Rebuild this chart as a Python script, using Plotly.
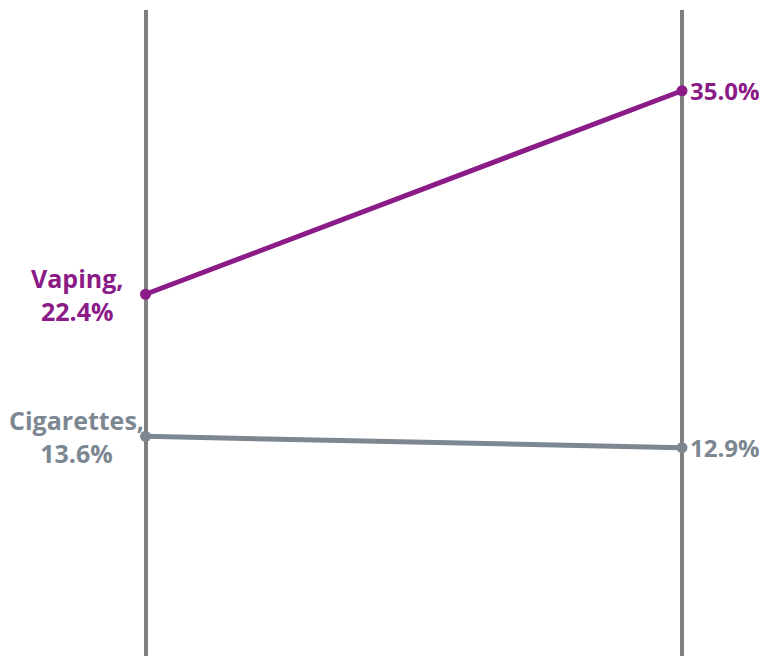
import plotly.graph_objs as go

# Datos
periods = ["Start", "End"]
series_names = ["Vaping", "Cigarettes"]
vaping = [22.4, 35.0]
cigarettes = [13.6, 12.9]

colors = {"Vaping": "#8B1C87", "Cigarettes": "#7C8791"}
values = {"Vaping": vaping, "Cigarettes": cigarettes}
font_family = "Open Sans, Liberation Sans, sans-serif"

fig = go.Figure()

for name in series_names:
    fig.add_trace(
        go.Scatter(
            x=[0, 1],
            y=values[name],
            mode="lines+markers",
            name=name,
            line=dict(color=colors[name], width=5),
            marker=dict(color=colors[name], size=11),
            showlegend=False,
        )
    )

    # Etiqueta izquierda (nombre + valor)
    fig.add_annotation(
        x=0, y=values[name][0],
        text=f"<b>{name},<br>{values[name][0]:.1f}%</b>",
        showarrow=False, xanchor="center", yanchor="middle",
        xshift=-69, align="center",
        font=dict(family=font_family, size=25, color=colors[name]),
    )
    # Etiqueta derecha (valor)
    fig.add_annotation(
        x=1, y=values[name][1],
        text=f"<b>{values[name][1]:.1f}%</b>",
        showarrow=False, xanchor="left", yanchor="middle",
        xshift=6,
        font=dict(family=font_family, size=24, color=colors[name]),
    )

# la página añade 8px de margen al body -> figura de 759x648
fig.update_xaxes(
    range=[-137.5 / 536.5, 1 + 85 / 536.5],
    tickvals=[0, 1],
    ticktext=periods,
    showticklabels=False,
    showgrid=True, gridcolor="#808080", gridwidth=4,
    zeroline=False, showline=False,
)
fig.update_yaxes(range=[0, 40], showgrid=False, zeroline=False,
                 showticklabels=False, showline=False)

fig.update_layout(
    width=759, height=648,
    margin=dict(l=0, r=0, t=2, b=0),
    plot_bgcolor="white", paper_bgcolor="white",
)

fig.write_html("out.html")
